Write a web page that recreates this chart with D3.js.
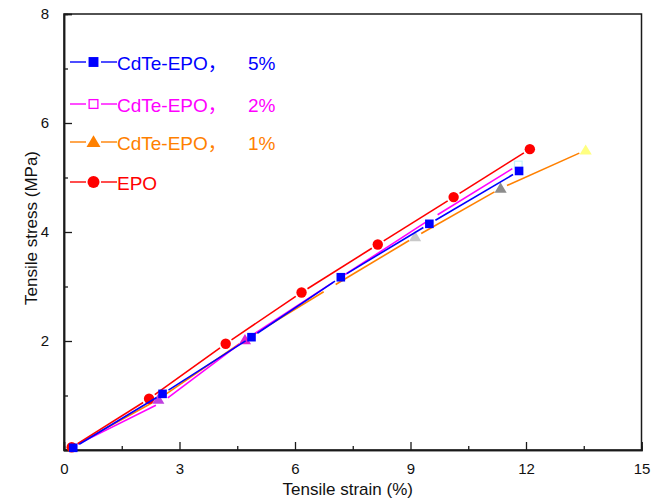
<!DOCTYPE html>
<html lang="en">
  <head>
    <meta charset="utf-8">
    <title>Tensile stress-strain</title>
    <style>
      body { margin: 0; background: #fff; }
      text { font-family: "Liberation Sans", Arial, "Noto Sans CJK SC", sans-serif; }
    </style>
  </head>
  <body>
    <svg width="652" height="498"></svg>
    <script type="text/javascript" src="https://cdn.jsdelivr.net/npm/d3@7"></script>
    <script>
      // strain (%) / stress (MPa)
      const epoX   = [0.2, 2.21, 4.2, 6.17, 8.15, 10.12, 12.1];
      const epoY   = [0.05, 0.94, 1.95, 2.89, 3.77, 4.64, 5.52];
      const cd1X   = [0.2, 2.45, 4.7, 6.9, 9.12, 11.34, 13.55];
      const cd1Y   = [0.05, 0.93, 2.02, 2.97, 3.91, 4.8, 5.5];
      const cd2X   = [0.2, 2.55, 4.7, 7.15, 9.55, 11.8];
      const cd2Y   = [0.05, 0.88, 2.02, 3.15, 4.25, 5.23];
      const cd5X   = [0.24, 2.56, 4.87, 7.19, 9.49, 11.82];
      const cd5Y   = [0.04, 1.03, 2.07, 3.17, 4.15, 5.12];

      const xTicks = [0, 3, 6, 9, 12, 15];
      const xMinor = [1.5, 4.5, 7.5, 10.5, 13.5];
      const yTicks = [2, 4, 6, 8];
      const yMinor = [1, 3, 5, 7];

      const legendNames = ['CdTe-EPO，', 'CdTe-EPO，', 'CdTe-EPO，', 'EPO'];
      const legendPct   = ['5%', '2%', '1%', ''];

      const series = [
        { name: '1%', xs: cd1X, ys: cd1Y, colour: '#ff8000', shape: 'triangle',
          markerFill: ['none', '#c040e0', '#e020d0', 'none', '#c8c8c8', '#8c8c8c', '#ffff80'] },
        { name: '2%', xs: cd2X, ys: cd2Y, colour: '#ff00ff', shape: 'hollow',
          markerFill: ['none', 'none', 'none', 'none', 'none', '#c8f4f8'] },
        { name: 'EPO', xs: epoX, ys: epoY, colour: '#ff0000', shape: 'circle',
          markerFill: ['#ff0000', '#ff0000', '#ff0000', '#ff0000', '#ff0000', '#ff0000', '#ff0000'] },
        { name: '5%', xs: cd5X, ys: cd5Y, colour: '#0000ff', shape: 'square',
          markerFill: ['#0000ff', '#0000ff', '#0000ff', '#0000ff', '#0000ff', '#0000ff'] }
      ];

      const plotL = 64, plotR = 641.5, plotT = 14, plotB = 450;
      const svg = d3.select('svg');

      const x = d3.scaleLinear().domain([0, 15]).range([plotL, plotR]);
      const y = d3.scaleLinear().domain([0, 8]).range([plotB, plotT]);

      // frame
      svg.append('rect')
        .attr('x', plotL).attr('y', plotT)
        .attr('width', plotR - plotL).attr('height', plotB - plotT)
        .attr('fill', 'none').attr('stroke', '#1a1a1a').attr('stroke-width', 1.5);

      svg.append('g')
        .attr('transform', 'translate(0,' + plotB + ')')
        .call(d3.axisBottom(x).tickValues(xTicks).tickSize(-8).tickPadding(13));
      svg.append('g')
        .attr('transform', 'translate(0,' + plotB + ')')
        .call(d3.axisBottom(x).tickValues(xMinor).tickSize(-4).tickFormat(''));

      svg.append('g')
        .attr('transform', 'translate(' + plotL + ',0)')
        .call(d3.axisLeft(y).tickValues(yTicks).tickSize(-8).tickPadding(15));
      svg.append('g')
        .attr('transform', 'translate(' + plotL + ',0)')
        .call(d3.axisLeft(y).tickValues(yMinor).tickSize(-4).tickFormat(''));

      svg.selectAll('.domain').attr('stroke', '#1a1a1a').attr('stroke-width', 1.5);
      svg.selectAll('.tick line').attr('stroke', '#1a1a1a').attr('stroke-width', 1.3);
      svg.selectAll('.tick text')
        .attr('fill', '#111')
        .style('font-size', '15px');

      svg.append('text')
        .attr('x', (plotL + plotR) / 2 - 5).attr('y', 495)
        .attr('text-anchor', 'middle')
        .style('font-size', '17px')
        .attr('fill', '#111')
        .text('Tensile strain (%)');

      svg.append('text')
        .attr('transform', 'translate(37,228) rotate(-90)')
        .attr('text-anchor', 'middle')
        .style('font-size', '17px')
        .attr('fill', '#111')
        .text('Tensile stress (MPa)');

      function drawMarker(g, shape, cx, cy, fill, big) {
        const s = big ? 1.15 : 1;
        if (fill === 'none') return;
        if (shape === 'circle') {
          g.append('circle').attr('cx', cx).attr('cy', cy).attr('r', 5.2 * s).attr('fill', fill);
        } else if (shape === 'square') {
          g.append('rect').attr('x', cx - 4.3 * s).attr('y', cy - 4.3 * s)
            .attr('width', 8.6 * s).attr('height', 8.6 * s).attr('fill', fill);
        } else if (shape === 'hollow') {
          g.append('rect').attr('x', cx - 3.8 * s).attr('y', cy - 3.8 * s)
            .attr('width', 7.6 * s).attr('height', 7.6 * s)
            .attr('fill', '#fff').attr('stroke', fill).attr('stroke-width', 1.3);
        } else {
          const h = 5.8 * s;
          g.append('path')
            .attr('d', d3.line()([[cx, cy - h], [cx + h * 1.05, cy + h * 0.75], [cx - h * 1.05, cy + h * 0.75]]) + 'Z')
            .attr('fill', fill);
        }
      }

      const gap = 7;
      series.forEach(function(s) {
        const g = svg.append('g');
        const pts = s.xs.map(function(v, i) { return [x(v), y(s.ys[i])]; });
        for (let i = 0; i < pts.length - 1; i++) {
          const a = pts[i], b = pts[i + 1];
          const dx = b[0] - a[0], dy = b[1] - a[1];
          const len = Math.sqrt(dx * dx + dy * dy);
          const ux = dx / len, uy = dy / len;
          g.append('line')
            .attr('x1', a[0] + ux * gap).attr('y1', a[1] + uy * gap)
            .attr('x2', b[0] - ux * gap).attr('y2', b[1] - uy * gap)
            .attr('stroke', s.colour).attr('stroke-width', 1.6);
        }
        pts.forEach(function(p, i) {
          drawMarker(g, s.shape, p[0], p[1], s.markerFill[i], false);
        });
      });

      // legend
      const legendRows = [
        { colour: '#0000ff', shape: 'square', cy: 62 },
        { colour: '#ff00ff', shape: 'hollow', cy: 104 },
        { colour: '#ff8000', shape: 'triangle', cy: 142 },
        { colour: '#ff0000', shape: 'circle', cy: 182 }
      ];
      legendRows.forEach(function(r, i) {
        const g = svg.append('g');
        g.append('line').attr('x1', 70).attr('x2', 86).attr('y1', r.cy).attr('y2', r.cy)
          .attr('stroke', r.colour).attr('stroke-width', 1.4);
        g.append('line').attr('x1', 101).attr('x2', 117).attr('y1', r.cy).attr('y2', r.cy)
          .attr('stroke', r.colour).attr('stroke-width', 1.4);
        drawMarker(g, r.shape, 93.5, r.cy, r.colour, true);
        g.append('text').attr('x', 117).attr('y', r.cy + 7.5)
          .style('font-size', '19px').attr('fill', r.colour)
          .text(legendNames[i]);
        g.append('text').attr('x', 248).attr('y', r.cy + 7.5)
          .style('font-size', '19px').attr('fill', r.colour)
          .text(legendPct[i]);
      });
    </script>
  </body>
</html>
